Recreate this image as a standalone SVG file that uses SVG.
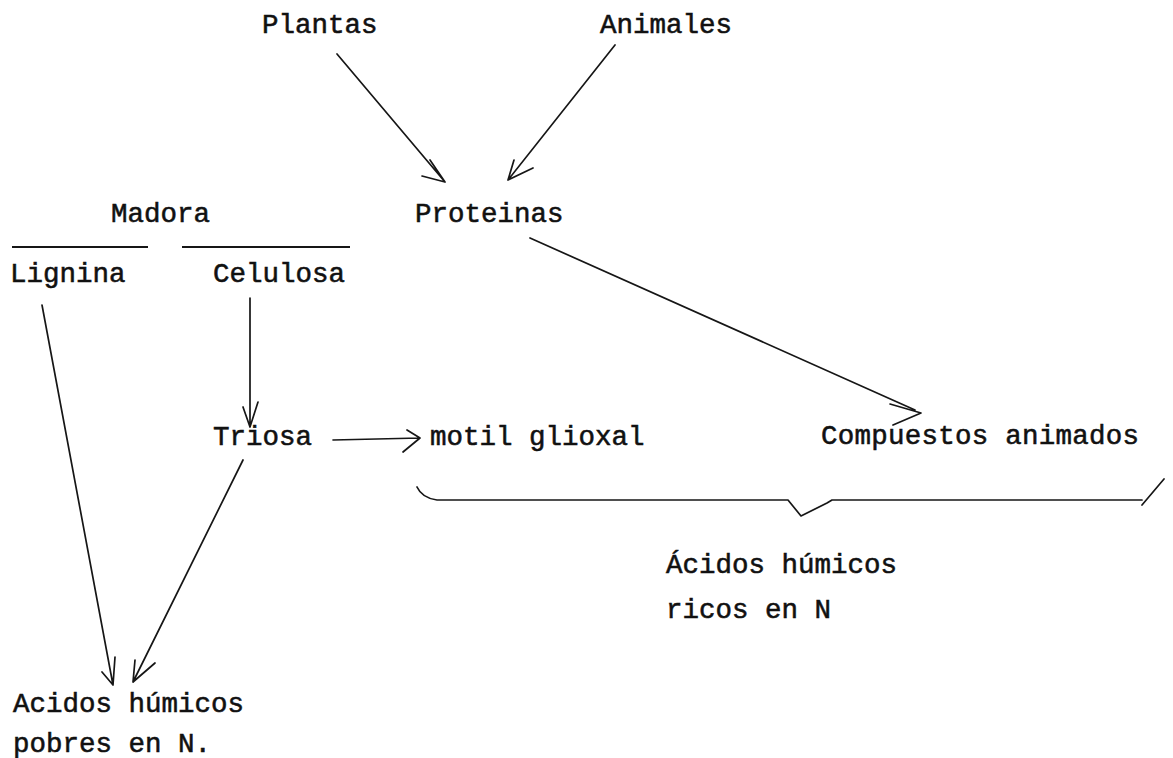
<svg xmlns="http://www.w3.org/2000/svg" width="1173" height="758" viewBox="0 0 1173 758">
<style>
  .t { font-family: "Liberation Mono", "Courier New", monospace; font-size: 27.5px; fill: #111111; stroke: #111111; stroke-width: 0.55; }
  .c { fill: none; stroke: #161616; stroke-width: 1.7; stroke-linecap: round; stroke-linejoin: round; }
  .u { fill: none; stroke: #161616; stroke-width: 2.2; }
</style>
<rect width="1173" height="758" fill="#ffffff"/>

<g id="plantas"><text class="t" x="262" y="33">Plantas</text></g>
<g id="animales"><text class="t" x="600" y="33">Animales</text></g>
<g id="madora">
  <text class="t" x="111" y="222">Madora</text>
  <line class="u" x1="12" y1="247" x2="148" y2="247"/>
  <line class="u" x1="182" y1="247" x2="350" y2="247"/>
</g>
<g id="proteinas"><text class="t" x="415" y="222">Proteinas</text></g>
<g id="lignina"><text class="t" x="10" y="282">Lignina</text></g>
<g id="celulosa"><text class="t" x="213" y="282">Celulosa</text></g>
<g id="triosa"><text class="t" x="213" y="445">Triosa</text></g>
<g id="motil"><text class="t" x="430" y="445">motil glioxal</text></g>
<g id="compuestos"><text class="t" x="821" y="444" textLength="318" lengthAdjust="spacing">Compuestos animados</text></g>
<g id="acidos-ricos">
  <text class="t" x="666" y="573">Ácidos húmicos</text>
  <text class="t" x="666" y="618">ricos en N</text>
</g>
<g id="acidos-pobres">
  <text class="t" x="13" y="712">Acidos húmicos</text>
  <text class="t" x="13" y="752">pobres en N.</text>
</g>

<g id="connectors">
  <!-- Plantas -> Proteinas -->
  <path class="c" d="M337 54 L445 182 M430 160 L445 182 L422 176"/>
  <!-- Animales -> Proteinas -->
  <path class="c" d="M615 45 L508 180 M533 168 L508 180 L514 160"/>
  <!-- Proteinas -> Compuestos -->
  <path class="c" d="M530 238 L915 410 M890 404 L921 413 L893 425"/>
  <!-- Celulosa -> Triosa -->
  <path class="c" d="M250 298 L250 427 M243 407 L250 427 L258 402"/>
  <!-- Triosa -> motil glioxal -->
  <path class="c" d="M333 440 L420 438 M407 430 L420 438 L403 452"/>
  <!-- Lignina -> Acidos pobres -->
  <path class="c" d="M42 305 L113 685 M102 672 L113 685 L115 657"/>
  <!-- Triosa -> Acidos pobres -->
  <path class="c" d="M243 460 L133 682 M135 660 L133 682 L155 663"/>
  <!-- brace -->
  <path class="c" d="M417 487 Q422 498 437 500 L788 500 L801 516 L827 503 L832 500 L1142 500 M1142 505 L1164 479"/>
</g>
</svg>
